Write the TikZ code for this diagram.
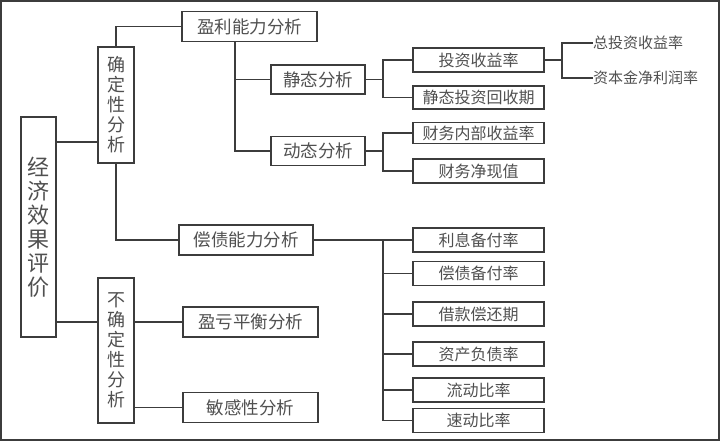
\documentclass[tikz,border=0pt]{standalone}
\usepackage{fontspec}
\setmainfont{Noto Sans CJK SC}
\usepackage{tikz}
\usetikzlibrary{positioning, calc}
\usepackage{xcolor}
\definecolor{linegray}{HTML}{3C3C3C}
\definecolor{textgray}{HTML}{505050}

\begin{document}
\begin{tikzpicture}[x=1pt, y=-1pt,
    every node/.style={text=textgray, inner sep=0pt},
    box/.style={rectangle, draw=linegray, line width=1.6pt, fill=white,
                align=center},
    big/.style={box, minimum width=135pt, minimum height=30pt,
                font=\fontsize{17.5}{20}\selectfont},
    mid/.style={box, minimum width=94pt, minimum height=29pt,
                font=\fontsize{17.5}{20}\selectfont},
    leaf/.style={box, minimum width=131pt, minimum height=23pt,
                 font=\fontsize{16}{18}\selectfont},
    col/.style={box, minimum width=36pt, font=\fontsize{18}{20}\selectfont},
    plain/.style={anchor=west, font=\fontsize{15}{17}\selectfont},
    conn/.style={draw=linegray, line width=1.6pt}
]
    \useasboundingbox (0,0) rectangle (720,441);
    \draw[linegray, line width=2.2pt] (1.1,1.1) rectangle (718.9,439.9);

    \node[col, minimum width=35pt, minimum height=220pt,
          font=\fontsize{22}{24}\selectfont] (root) at (38.5,227)
          {经\\济\\效\\果\\评\\价};
    \node[col, minimum height=116pt] (sure)   at (116,105)   {确\\定\\性\\分\\析};
    \node[col, minimum height=145pt] (unsure) at (116,350.5) {不\\确\\定\\性\\分\\析};

    \node[big, minimum width=135pt] (prof) at (249.5,26.5) {盈利能力分析};
    \node[big, minimum width=134pt] (solv) at (246,240)    {偿债能力分析};
    \node[big] (bep)  at (250.5,322)   {盈亏平衡分析};
    \node[big] (sens) at (250.5,407.5) {敏感性分析};

    \node[mid] (stat) at (318,79.5) {静态分析};
    \node[mid] (dyn)  at (318,151)  {动态分析};

    \node[leaf, minimum height=24pt] (roi)  at (478.5,60)   {投资收益率};
    \node[leaf]                      (spp)  at (478.5,97.5) {静态投资回收期};
    \node[leaf, minimum height=21pt] (firr) at (478.5,133)  {财务内部收益率};
    \node[leaf, minimum height=24pt] (fnpv) at (478.5,171)  {财务净现值};

    \node[plain] (tot) at (593,43) {总投资收益率};
    \node[plain] (cap) at (593,78) {资本金净利润率};

    \node[leaf, minimum height=24pt] (ic)  at (478.5,240)   {利息备付率};
    \node[leaf, minimum height=24pt] (dsc) at (478.5,273.5) {偿债备付率};
    \node[leaf, minimum height=24pt] (lp)  at (478.5,314)   {借款偿还期};
    \node[leaf, minimum height=24pt] (al)  at (478.5,354)   {资产负债率};
    \node[leaf, minimum height=24pt] (cr)  at (478.5,390)   {流动比率};
    \node[leaf, minimum height=24pt] (qr)  at (478.5,420.5) {速动比率};

    \coordinate (j1) at (0,142);
    \coordinate (j2) at (0,322);
    \coordinate (b1) at (235,0);
    \coordinate (b2) at (383,0);
    \coordinate (b3) at (562,0);

    \draw[conn] (root.east |- j1) -- (sure.west |- j1);
    \draw[conn] (root.east |- j2) -- (unsure.west |- j2);

    \draw[conn] (sure.north) |- (prof.west);
    \draw[conn] (sure.south) |- (solv.west);

    \draw[conn] (prof.south -| b1) |- (dyn.west);
    \draw[conn] (b1 |- stat.west) -- (stat.west);

    \draw[conn] (stat.east) -- (b2 |- stat.east);
    \draw[conn] (roi.west) -| (b2 |- spp.west) -- (spp.west);
    \draw[conn] (dyn.east) -- (b2 |- dyn.east);
    \draw[conn] (firr.west) -| (b2 |- fnpv.west) -- (fnpv.west);

    \draw[conn] (roi.east) -- (b3 |- roi.east);
    \draw[conn] (tot.west) -| (b3 |- cap.west) -- (cap.west);

    \draw[conn] (solv.east) -- (ic.west);
    \draw[conn] (b2 |- ic.west) |- (qr.west);
    \foreach \n in {dsc, lp, al, cr}
        \draw[conn] (b2 |- \n.west) -- (\n.west);

    \draw[conn] (unsure.east |- bep.west) -- (bep.west);
    \draw[conn] (unsure.east |- sens.west) -- (sens.west);
\end{tikzpicture}
\end{document}
